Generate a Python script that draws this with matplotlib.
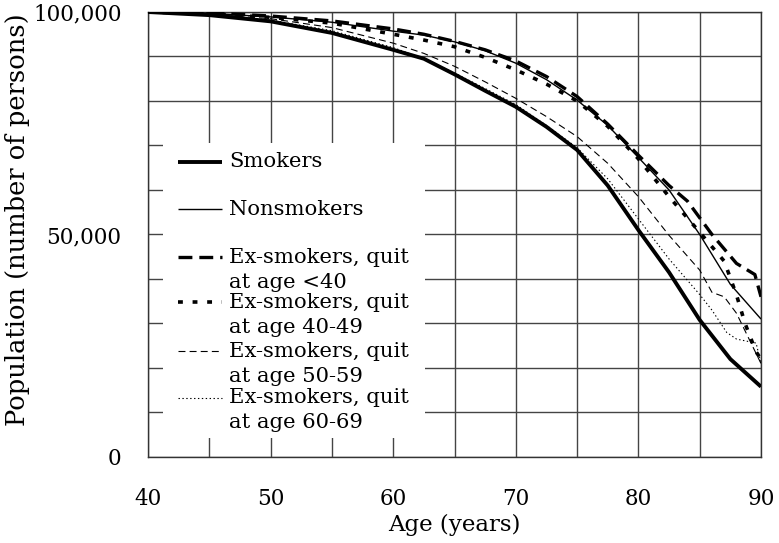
import matplotlib.pyplot as plt
import matplotlib as mpl
from matplotlib.patches import Rectangle
from matplotlib.lines import Line2D

# survival curves (age in years, persons alive out of 100,000)
smokers_age = [40, 45, 50, 55, 60, 62.5, 65, 67.5, 70, 72.5, 75, 77.5, 80, 82.5, 85, 87.5, 90]
smokers = [100000, 99300, 97900, 95300, 91500, 89500, 86000, 82300, 78700, 74200, 69000,
           61000, 51000, 41500, 30800, 22000, 15800]

nonsmokers_age = [40, 45, 50, 55, 60, 62.5, 65, 67.5, 70, 72.5, 75, 77.5, 80, 82.5, 85, 87.5, 90]
nonsmokers = [100000, 99700, 98900, 97700, 95700, 94800, 93300, 91300, 88500, 84800, 80200,
              74500, 67300, 60000, 50000, 38800, 31000]

quit_lt40_age = [40, 45, 50, 55, 60, 62.5, 65, 67.5, 70, 72.5, 75, 77.5, 80, 82.5, 84, 86, 88, 89.5, 90]
quit_lt40 = [100000, 99800, 99100, 98000, 96200, 95000, 93400, 91500, 89000, 85500, 81000,
             74800, 67800, 61000, 57500, 50000, 43500, 41000, 36000]

quit_40_49_age = [40, 45, 50, 55, 60, 62.5, 65, 67.5, 70, 72.5, 75, 77.5, 80, 82.5, 85, 87, 88, 88.7, 89.6, 90]
quit_40_49 = [100000, 99600, 98800, 97500, 95000, 93700, 92200, 89800, 87000, 83800, 80000,
              74300, 67000, 58500, 50500, 44000, 36400, 30000, 23600, 22000]

quit_50_59_age = [40, 45, 50, 55, 60, 62.5, 65, 67.5, 70, 72.5, 75, 77.5, 80, 82.5, 85, 86, 87, 88, 90]
quit_50_59 = [100000, 99500, 98500, 96500, 93000, 90700, 87800, 84300, 80600, 76500, 72000,
              66000, 58500, 49800, 42000, 37000, 36000, 32300, 21000]

quit_60_69_age = [40, 45, 50, 55, 60, 62.5, 65, 67.5, 70, 72.5, 75, 77.5, 80, 82.5, 85, 86, 87.2, 88, 89.6, 90]
quit_60_69 = [100000, 99400, 98200, 95800, 92000, 89500, 86300, 82800, 79200, 74500, 69500,
              62500, 53500, 44500, 36500, 33000, 28000, 26500, 25600, 21000]

labels = ['Smokers', 'Nonsmokers', 'Ex-smokers, quit\nat age <40', 'Ex-smokers, quit\nat age 40-49',
          'Ex-smokers, quit\nat age 50-59', 'Ex-smokers, quit\nat age 60-69']
x_ticks = [40, 50, 60, 70, 80, 90]
y_ticks = [0, 50000, 100000]
y_tick_labels = ['0', '50,000', '100,000']

mpl.rcParams['font.family'] = 'DejaVu Serif'
mpl.rcParams['lines.scale_dashes'] = False

fig = plt.figure(figsize=(7.79, 5.43), dpi=100)
ax = fig.add_axes([0.19, 0.1584, 0.7869, 0.8195])

styles = [
    dict(color='black', lw=2.8, linestyle='-'),
    dict(color='black', lw=1.0, linestyle='-'),
    dict(color='black', lw=2.4, linestyle=(0, (10, 5))),
    dict(color='black', lw=2.6, linestyle=(0, (3.5, 7))),
    dict(color='black', lw=0.8, linestyle=(0, (5, 3))),
    dict(color='black', lw=0.8, linestyle=(0, (1, 1.8))),
]
series = [(smokers_age, smokers), (nonsmokers_age, nonsmokers), (quit_lt40_age, quit_lt40),
          (quit_40_49_age, quit_40_49), (quit_50_59_age, quit_50_59), (quit_60_69_age, quit_60_69)]
for (ages, vals), st in zip(series, styles):
    ax.plot(ages, vals, zorder=3, solid_capstyle='butt', **st)

ax.set_xlim(40, 90)
ax.set_ylim(0, 100000)
ax.set_xticks(x_ticks)
ax.set_xticks(range(40, 91, 5), minor=True)
ax.set_yticks(y_ticks)
ax.set_yticklabels(y_tick_labels)
ax.set_yticks(range(0, 100001, 10000), minor=True)
ax.set_axisbelow(True)
ax.grid(which='both', color='#444444', lw=1.0)
ax.tick_params(which='both', length=0)
ax.tick_params(axis='x', labelsize=15.5, pad=22)
ax.tick_params(axis='y', labelsize=15.5, pad=19)
for s in ax.spines.values():
    s.set_color('#333333')
    s.set_linewidth(1.0)

ax.set_xlabel('Age (years)', fontsize=16.5, labelpad=3)
ax.set_ylabel('Population (number of persons)', fontsize=18.5)
ax.yaxis.set_label_coords(-0.193, 0.533)

# legend drawn by hand: white box over the grid, handles aligned with first text line
ax.add_patch(Rectangle((0.0245, 0.043), 0.428, 0.663, transform=ax.transAxes,
                       facecolor='white', edgecolor='none', zorder=1))
entry_y = [0.663, 0.557, 0.449, 0.348, 0.238, 0.133]
line_gap = 25 / 445
for y, lab, st in zip(entry_y, labels, styles):
    ax.add_line(Line2D([0.049, 0.1207], [y, y], transform=ax.transAxes, zorder=4,
                       solid_capstyle='butt', **st))
    for i, part in enumerate(lab.split('\n')):
        ax.text(0.132, y - i * line_gap, part, transform=ax.transAxes, fontsize=15.2,
                va='center', ha='left', zorder=4)

fig.savefig('out.png', dpi=100)
